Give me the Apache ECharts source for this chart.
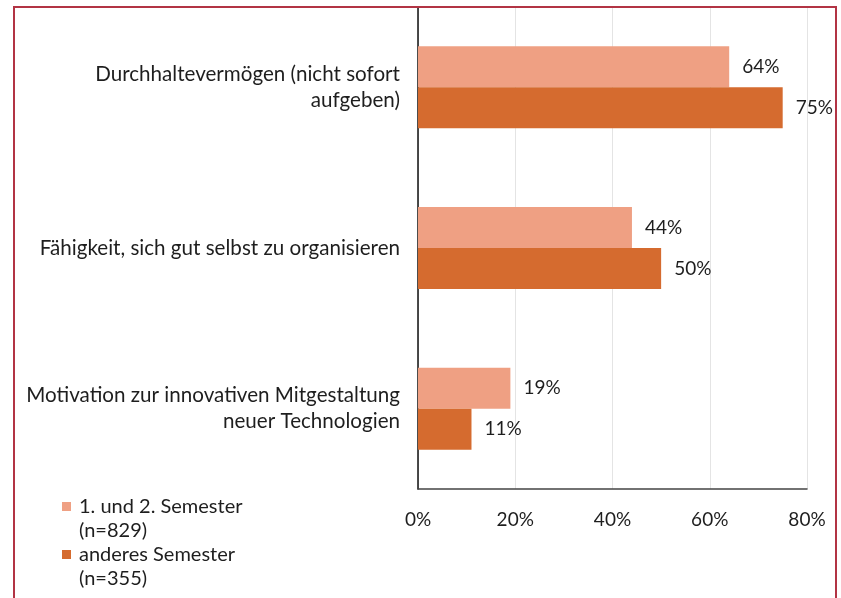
<!DOCTYPE html>
<html>
<head>
<meta charset="utf-8">
<script src="https://cdn.jsdelivr.net/npm/echarts@6/dist/echarts.min.js"></script>
<style>
html,body{margin:0;padding:0;background:#fff;}
#chart{width:841px;height:598px;}
</style>
</head>
<body>
<div id="chart"></div>
<script>
var categories = [
  "Durchhaltevermögen (nicht sofort\naufgeben)",
  "Fähigkeit, sich gut selbst zu organisieren",
  "Motivation zur innovativen Mitgestaltung\nneuer Technologien"
];
var seriesNames = ["1. und 2. Semester\n(n=829)", "anderes Semester\n(n=355)"];
var firstSemesters = [64, 44, 19];
var otherSemesters = [75, 50, 11];
var xTicks = [0, 20, 40, 60, 80];

var FONT = "Lato, 'Open Sans', sans-serif";
var chart = echarts.init(document.getElementById('chart'), null, {renderer: 'canvas'});
var legendIcon = 'path://M0,0H9V9H0Z M0,33.9H0.05V34H0Z';
chart.setOption({
  animation: false,
  backgroundColor: '#ffffff',
  textStyle: {fontFamily: FONT},
  graphic: [{
    type: 'rect',
    shape: {x: 14, y: 7, width: 822, height: 620},
    style: {fill: 'none', stroke: '#B23444', lineWidth: 2},
    z: 100
  }],
  grid: {left: 418, right: 34, top: 7, bottom: 109, containLabel: false},
  legend: {
    orient: 'vertical',
    left: 57,
    top: 490,
    padding: 5,
    itemWidth: 9,
    itemHeight: 34,
    itemGap: 0,
    icon: legendIcon,
    textStyle: {fontSize: 20, color: '#1e1e1e', lineHeight: 24, fontFamily: FONT, padding: [0, 0, 0, 3]},
    data: seriesNames
  },
  xAxis: {
    type: 'value',
    min: xTicks[0],
    max: xTicks[xTicks.length - 1],
    interval: 20,
    axisLine: {show: true, lineStyle: {color: '#444', width: 1.5}},
    axisTick: {show: false},
    splitLine: {show: true, lineStyle: {color: '#e4e4e4', width: 1}},
    axisLabel: {formatter: '{value}%', fontSize: 19, color: '#1e1e1e', margin: 21, fontFamily: FONT}
  },
  yAxis: {
    type: 'category',
    inverse: true,
    data: categories,
    axisLine: {show: true, lineStyle: {color: '#111', width: 1.5}},
    axisTick: {show: false},
    axisLabel: {fontSize: 20.6, color: '#1e1e1e', margin: 18, lineHeight: 26, align: 'right', fontFamily: FONT}
  },
  series: [{
    name: seriesNames[0],
    type: 'bar',
    data: firstSemesters,
    barGap: '0%',
    barCategoryGap: '49%',
    itemStyle: {color: '#EFA083'},
    label: {show: true, position: 'right', distance: 13, formatter: '{c}%', fontSize: 19, color: '#1e1e1e', fontFamily: FONT}
  }, {
    name: seriesNames[1],
    type: 'bar',
    data: otherSemesters,
    barGap: '0%',
    barCategoryGap: '49%',
    itemStyle: {color: '#D56B2F'},
    label: {show: true, position: 'right', distance: 13, formatter: '{c}%', fontSize: 19, color: '#1e1e1e', fontFamily: FONT}
  }]
});
</script>
</body>
</html>
